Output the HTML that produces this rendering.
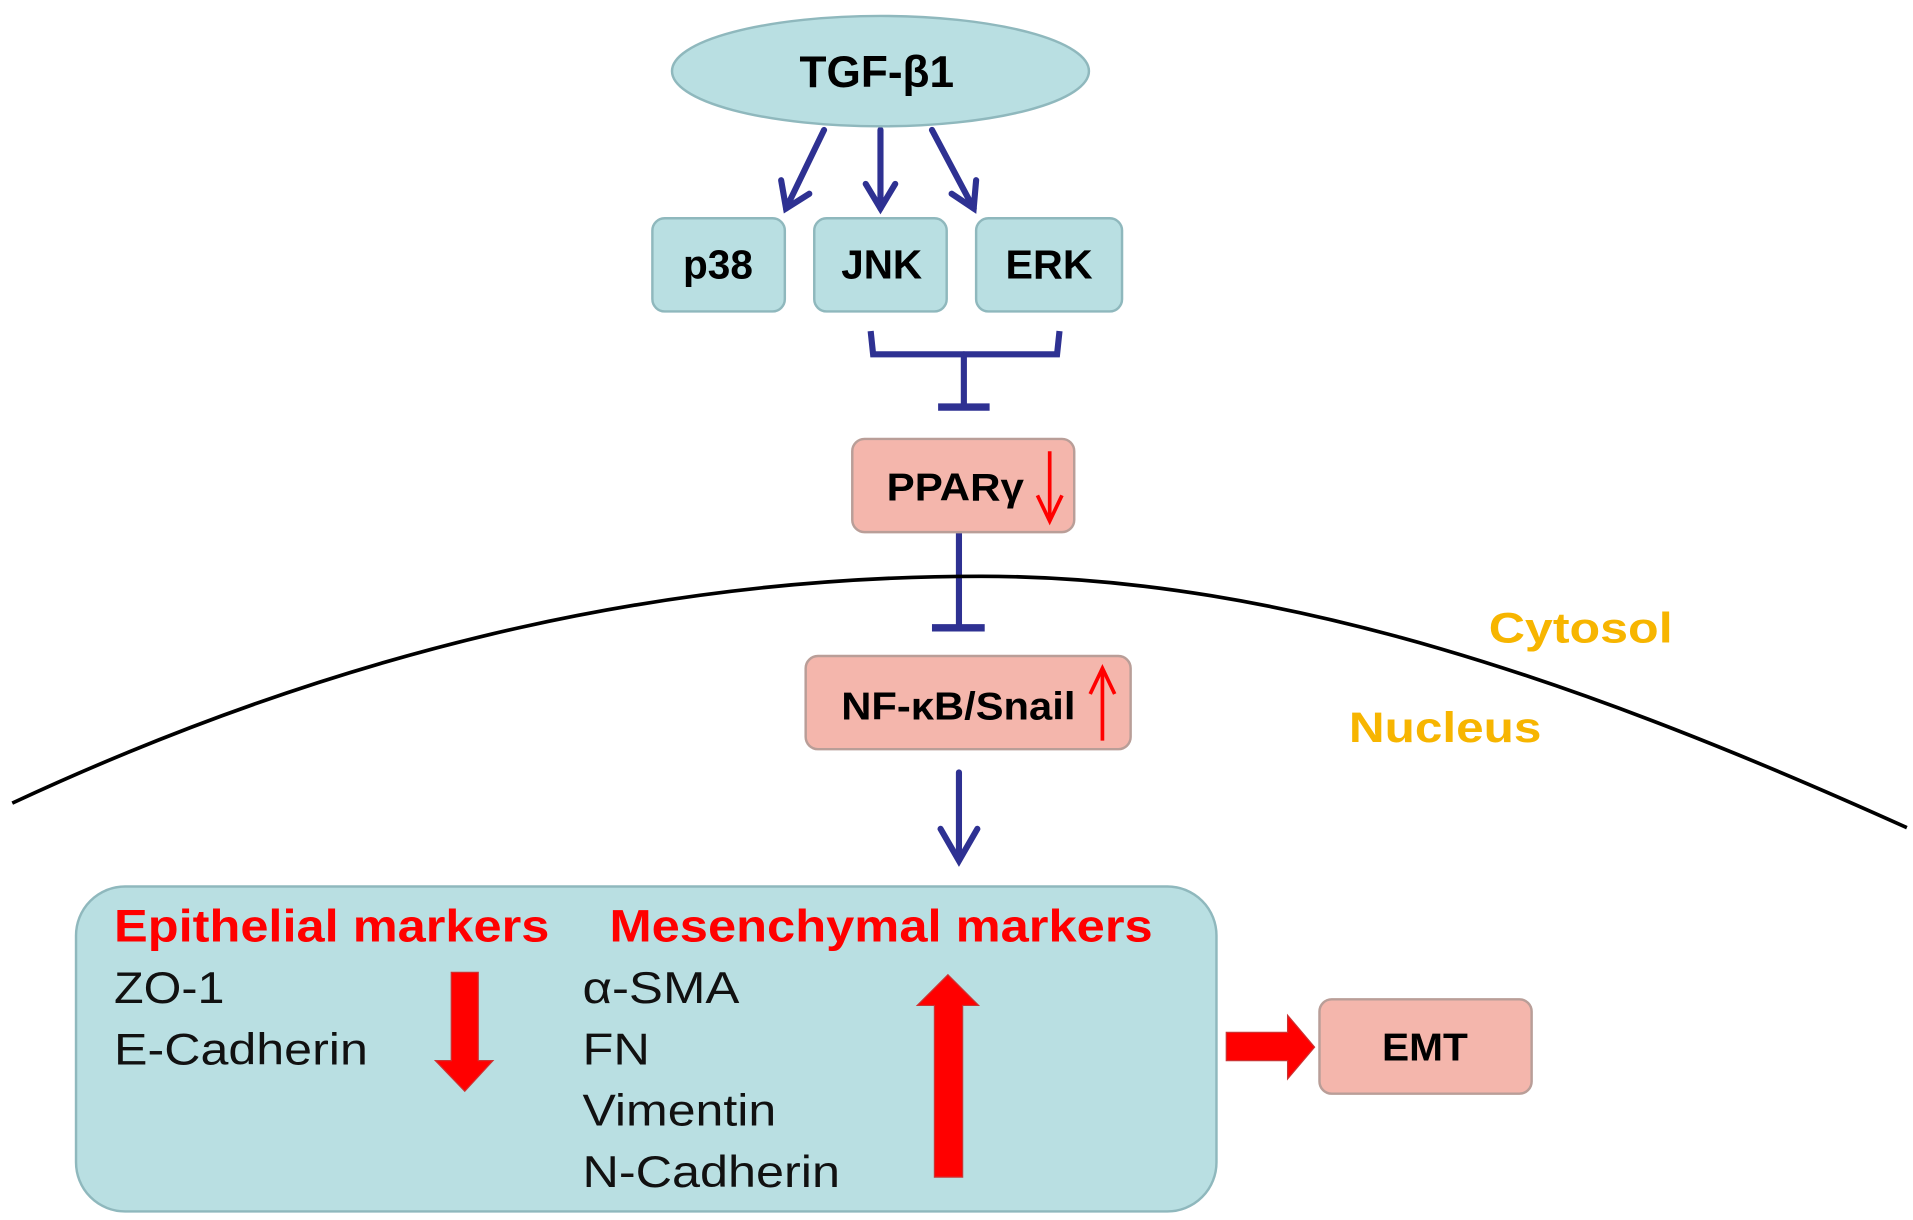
<!DOCTYPE html>
<html><head><meta charset="utf-8"><style>html,body{margin:0;padding:0;background:#fff}svg{display:block}</style></head>
<body>
<svg width="1913" height="1220" viewBox="0 0 1560 995" preserveAspectRatio="none" xmlns="http://www.w3.org/2000/svg" font-family="Liberation Sans, Arial, sans-serif">
<g stroke="#2e3192" stroke-width="5" fill="none" stroke-linecap="round">
<line x1="672" y1="106" x2="641" y2="170"/><polyline points="637,147 641,170 660,158"/>
<line x1="718" y1="106" x2="718" y2="170"/><polyline points="706,150 718,170 730,150"/>
<line x1="760" y1="106" x2="794" y2="170"/><polyline points="776,158 794,170 796,147"/>
<polyline points="710,270 712,289 862,289 864,270" stroke-linecap="butt"/>
<line x1="786" y1="289" x2="786" y2="331"/>
<line x1="765" y1="332" x2="807" y2="332" stroke-width="6" stroke-linecap="butt"/>
<line x1="782" y1="434" x2="782" y2="510"/>
<line x1="760" y1="512" x2="803" y2="512" stroke-width="6" stroke-linecap="butt"/>
<line x1="782" y1="630" x2="782" y2="700"/><polyline points="767,676 782,702 797,676"/>
</g>
<ellipse cx="718" cy="58" rx="170" ry="45" fill="#b9dfe2" stroke="#8fb8bd" stroke-width="2"/>
<text x="652" y="71" font-weight="bold" font-size="36" textLength="126" lengthAdjust="spacingAndGlyphs">TGF-β1</text>
<g fill="#b9dfe2" stroke="#8fb8bd" stroke-width="2">
<rect x="532" y="178" width="108" height="76" rx="10"/>
<rect x="664" y="178" width="108" height="76" rx="10"/>
<rect x="796" y="178" width="119" height="76" rx="10"/>
<rect x="62" y="723" width="930" height="265" rx="40"/>
</g>
<g font-weight="bold" font-size="33" lengthAdjust="spacingAndGlyphs">
<text x="557" y="227" textLength="57" lengthAdjust="spacingAndGlyphs">p38</text>
<text x="686" y="227" textLength="66" lengthAdjust="spacingAndGlyphs">JNK</text>
<text x="820" y="227" textLength="71" lengthAdjust="spacingAndGlyphs">ERK</text>
</g>
<path d="M10,655 C300,520 560,470 800,470 C1050,470 1300,560 1555,675" fill="none" stroke="#000" stroke-width="3"/>
<g fill="#f4b6ac" stroke="#b99e98" stroke-width="2">
<rect x="695" y="358" width="181" height="76" rx="10"/>
<rect x="657" y="535" width="265" height="76" rx="10"/>
<rect x="1076" y="815" width="173" height="77" rx="10"/>
</g>
<g font-weight="bold" font-size="32">
<text x="723" y="408" textLength="112" lengthAdjust="spacingAndGlyphs">PPARγ</text>
<text x="686" y="587" textLength="191" lengthAdjust="spacingAndGlyphs">NF-κB/Snail</text>
<text x="1127" y="865" textLength="70" lengthAdjust="spacingAndGlyphs">EMT</text>
</g>
<g stroke="#f00" stroke-width="3" fill="none">
<line x1="856" y1="368" x2="856" y2="424"/><polyline points="846,404 856,425 866,404"/>
<line x1="899" y1="604" x2="899" y2="546"/><polyline points="889,566 899,545 909,566"/>
</g>
<g font-weight="bold" font-size="35" fill="#f7b500">
<text x="1214" y="524" textLength="150" lengthAdjust="spacingAndGlyphs">Cytosol</text>
<text x="1100" y="605" textLength="157" lengthAdjust="spacingAndGlyphs">Nucleus</text>
</g>
<g font-weight="bold" font-size="37" fill="#f00">
<text x="93" y="768" textLength="355" lengthAdjust="spacingAndGlyphs">Epithelial markers</text>
<text x="497" y="768" textLength="443" lengthAdjust="spacingAndGlyphs">Mesenchymal markers</text>
</g>
<g font-size="36" fill="#111">
<text x="93" y="818" textLength="90" lengthAdjust="spacingAndGlyphs">ZO-1</text>
<text x="93" y="868" textLength="207" lengthAdjust="spacingAndGlyphs">E-Cadherin</text>
<text x="475" y="818" textLength="128" lengthAdjust="spacingAndGlyphs">α-SMA</text>
<text x="475" y="868" textLength="55" lengthAdjust="spacingAndGlyphs">FN</text>
<text x="475" y="918" textLength="158" lengthAdjust="spacingAndGlyphs">Vimentin</text>
<text x="475" y="968" textLength="210" lengthAdjust="spacingAndGlyphs">N-Cadherin</text>
</g>
<g fill="#f00" stroke="#c33" stroke-width="1">
<polygon points="368,793 390,793 390,865 402,865 379,890 355,865 368,865"/>
<polygon points="762,960 785,960 785,820 798,820 773,795 748,820 762,820"/>
<polygon points="1000,842 1050,842 1050,828 1072,854 1050,880 1050,865 1000,865"/>
</g>
</svg>
</body></html>
